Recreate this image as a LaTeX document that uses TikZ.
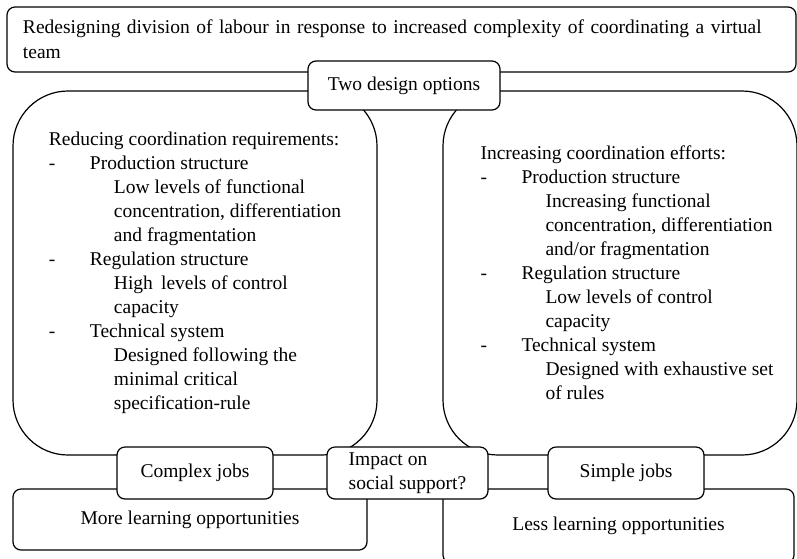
\documentclass[tikz,border=0pt]{standalone}
\usepackage{fontspec}
\setmainfont{Liberation Serif}
\tikzset{
    optbox/.style={
           rectangle,
           rounded corners=8pt,
           draw=black, line width=1.2pt,
           inner sep=0pt,
           text centered,
           },
    bigbox/.style={optbox, rounded corners=55pt},
    tagbox/.style={optbox, fill=white},
    listtext/.style={align=left, inner sep=0pt},
}
\newcommand{\optitem}[1]{\makebox[41pt][l]{-}#1}
\newcommand{\optdetail}[1]{\hspace*{65pt}#1}

\begin{document}
\begin{tikzpicture}[x=1pt, y=-1pt, font=\fontsize{19.5}{24}\selectfont]
  \useasboundingbox (0,0) rectangle (797,558);
  % two design options
  \node[bigbox, minimum width=364pt, minimum height=364pt] (reduce)   at (195,273) {};
  \node[bigbox, minimum width=354pt, minimum height=364pt] (increase) at (620,273) {};
  \node[listtext] (reducetxt) at (reduce.center) {Reducing coordination requirements:\\
    \optitem{Production structure}\\
    \optdetail{Low levels of functional}\\
    \optdetail{concentration, differentiation}\\
    \optdetail{and fragmentation}\\
    \optitem{Regulation structure}\\
    \optdetail{High\, levels of control}\\
    \optdetail{capacity}\\
    \optitem{Technical system}\\
    \optdetail{Designed following the}\\
    \optdetail{minimal critical}\\
    \optdetail{specification-rule}};
  \node[listtext] (increasetxt) at ([xshift=7pt]increase.center) {Increasing coordination efforts:\\
    \optitem{Production structure}\\
    \optdetail{Increasing functional}\\
    \optdetail{concentration, differentiation}\\
    \optdetail{and/or fragmentation}\\
    \optitem{Regulation structure}\\
    \optdetail{Low levels of control}\\
    \optdetail{capacity}\\
    \optitem{Technical system}\\
    \optdetail{Designed with exhaustive set}\\
    \optdetail{of rules}};
  % heading
  \node[optbox, minimum width=789pt, minimum height=65pt, align=left, text width=757pt,
        font=\fontsize{19.5}{25}\selectfont] (redesign) at (401.5,39.5)
        {Redesigning division of labour in response to increased complexity of coordinating a virtual\\team};
  \node[tagbox, minimum width=192pt, minimum height=49pt] (options) at (404,85.5) {Two design options};
  % outcomes
  \node[optbox, minimum width=354pt, minimum height=61pt] (morelearn) at (190,519.5) {More learning opportunities};
  \node[optbox, minimum width=351pt, minimum height=74pt] (lesslearn) at (618.5,526) {Less learning opportunities};
  \node[tagbox, minimum width=156pt, minimum height=52pt] (complex) at (195,473)   {Complex jobs};
  \node[tagbox, minimum width=161pt, minimum height=52pt, align=left] (impact) at (407.5,473) {Impact on\\social support?};
  \node[tagbox, minimum width=156pt, minimum height=52pt] (simple)  at (626,473)   {Simple jobs};
\end{tikzpicture}
\end{document}
